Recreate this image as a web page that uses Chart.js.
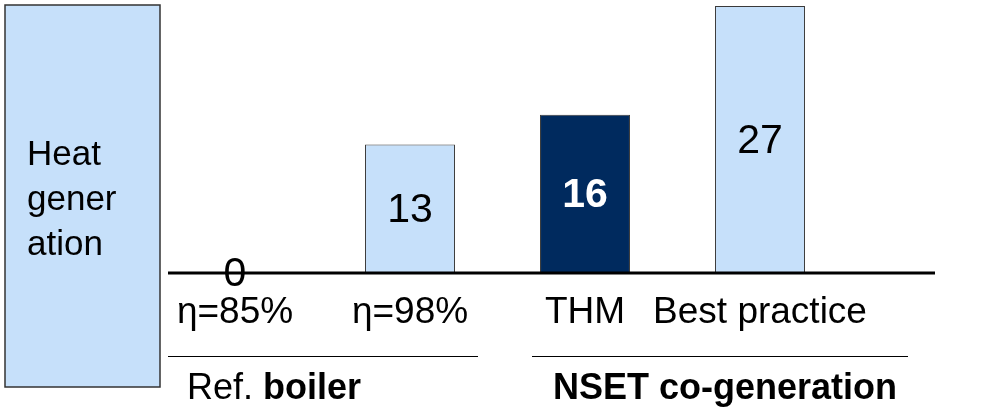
<!DOCTYPE html>
<html>
<head>
<meta charset="utf-8">
<script src="https://cdn.jsdelivr.net/npm/chart.js"></script>
<style>
  html, body { margin: 0; padding: 0; background: #fff; }
  #wrap { width: 989px; height: 410px; }
</style>
</head>
<body>
<div id="wrap"><canvas id="chart" width="989" height="410"></canvas></div>
<script>
const categories = ['η=85%', 'η=98%', 'THM', 'Best practice'];
const values = [0, 13, 16, 27];
const barColors = ['#c6e0fa', '#c6e0fa', '#002a5e', '#c6e0fa'];
const labelColors = ['#000', '#000', '#fff', '#000'];
const labelBold = [false, false, true, false];
const groups = [
  { plain: 'Ref. ', bold: 'boiler', x: 187, lineFrom: 168, lineTo: 478 },
  { plain: '', bold: 'NSET co-generation', x: 553, lineFrom: 532, lineTo: 908 }
];
const sideLabel = ['Heat', 'gener', 'ation'];

const FONT = '"Liberation Sans", Arial, sans-serif';

const decor = {
  id: 'decor',
  beforeDraw(chart) {
    const ctx = chart.ctx;
    ctx.save();
    // side box
    ctx.fillStyle = '#c6e0fa';
    ctx.fillRect(5, 5, 155, 382);
    ctx.strokeStyle = '#333';
    ctx.lineWidth = 1.5;
    ctx.strokeRect(5, 5, 155, 382);
    ctx.fillStyle = '#000';
    ctx.font = '35px ' + FONT;
    ctx.textBaseline = 'alphabetic';
    ctx.textAlign = 'left';
    sideLabel.forEach((t, i) => ctx.fillText(t, 27, 165 + i * 45));
    ctx.restore();
  },
  afterDatasetsDraw(chart) {
    const ctx = chart.ctx;
    const y = chart.scales.y;
    const y0 = y.getPixelForValue(0);
    ctx.save();
    // baseline
    ctx.strokeStyle = '#000';
    ctx.lineWidth = 3;
    ctx.beginPath();
    ctx.moveTo(168, y0);
    ctx.lineTo(935, y0);
    ctx.stroke();
    // value labels in the middle of each bar
    const meta = chart.getDatasetMeta(0);
    ctx.textAlign = 'center';
    ctx.textBaseline = 'middle';
    meta.data.forEach((bar, i) => {
      ctx.font = (labelBold[i] ? 'bold ' : '') + '41px ' + FONT;
      ctx.fillStyle = labelColors[i];
      ctx.fillText(String(values[i]), bar.x, (bar.y + y0) / 2 + 2);
    });
    // group lines and labels
    ctx.lineWidth = 1.2;
    ctx.textAlign = 'left';
    groups.forEach(g => {
      ctx.beginPath();
      ctx.moveTo(g.lineFrom, 356.5);
      ctx.lineTo(g.lineTo, 356.5);
      ctx.stroke();
      ctx.fillStyle = '#000';
      let x = g.x;
      if (g.plain) {
        ctx.font = '36px ' + FONT;
        ctx.fillText(g.plain, x, 389);
        x += ctx.measureText(g.plain).width;
      }
      ctx.font = 'bold 36px ' + FONT;
      ctx.fillText(g.bold, x, 389);
    });
    ctx.restore();
  }
};

new Chart(document.getElementById('chart'), {
  type: 'bar',
  data: {
    labels: categories,
    datasets: [{
      data: values,
      backgroundColor: barColors,
      borderColor: '#3a3a3a',
      borderWidth: 1,
      categoryPercentage: 1,
      barPercentage: 0.514
    }]
  },
  options: {
    responsive: false,
    animation: false,
    layout: { padding: { left: 147.5, right: 141.5, top: 6, bottom: 0 } },
    plugins: { legend: { display: false }, tooltip: { enabled: false } },
    scales: {
      y: { display: false, min: 0, max: 27 },
      x: {
        grid: { display: false, drawTicks: false },
        border: { display: false },
        ticks: { color: '#000', font: { family: FONT, size: 37 }, padding: 18, maxRotation: 0, autoSkip: false },
        afterFit(scale) { scale.height = 137; }
      }
    }
  },
  plugins: [decor]
});
</script>
</body>
</html>
